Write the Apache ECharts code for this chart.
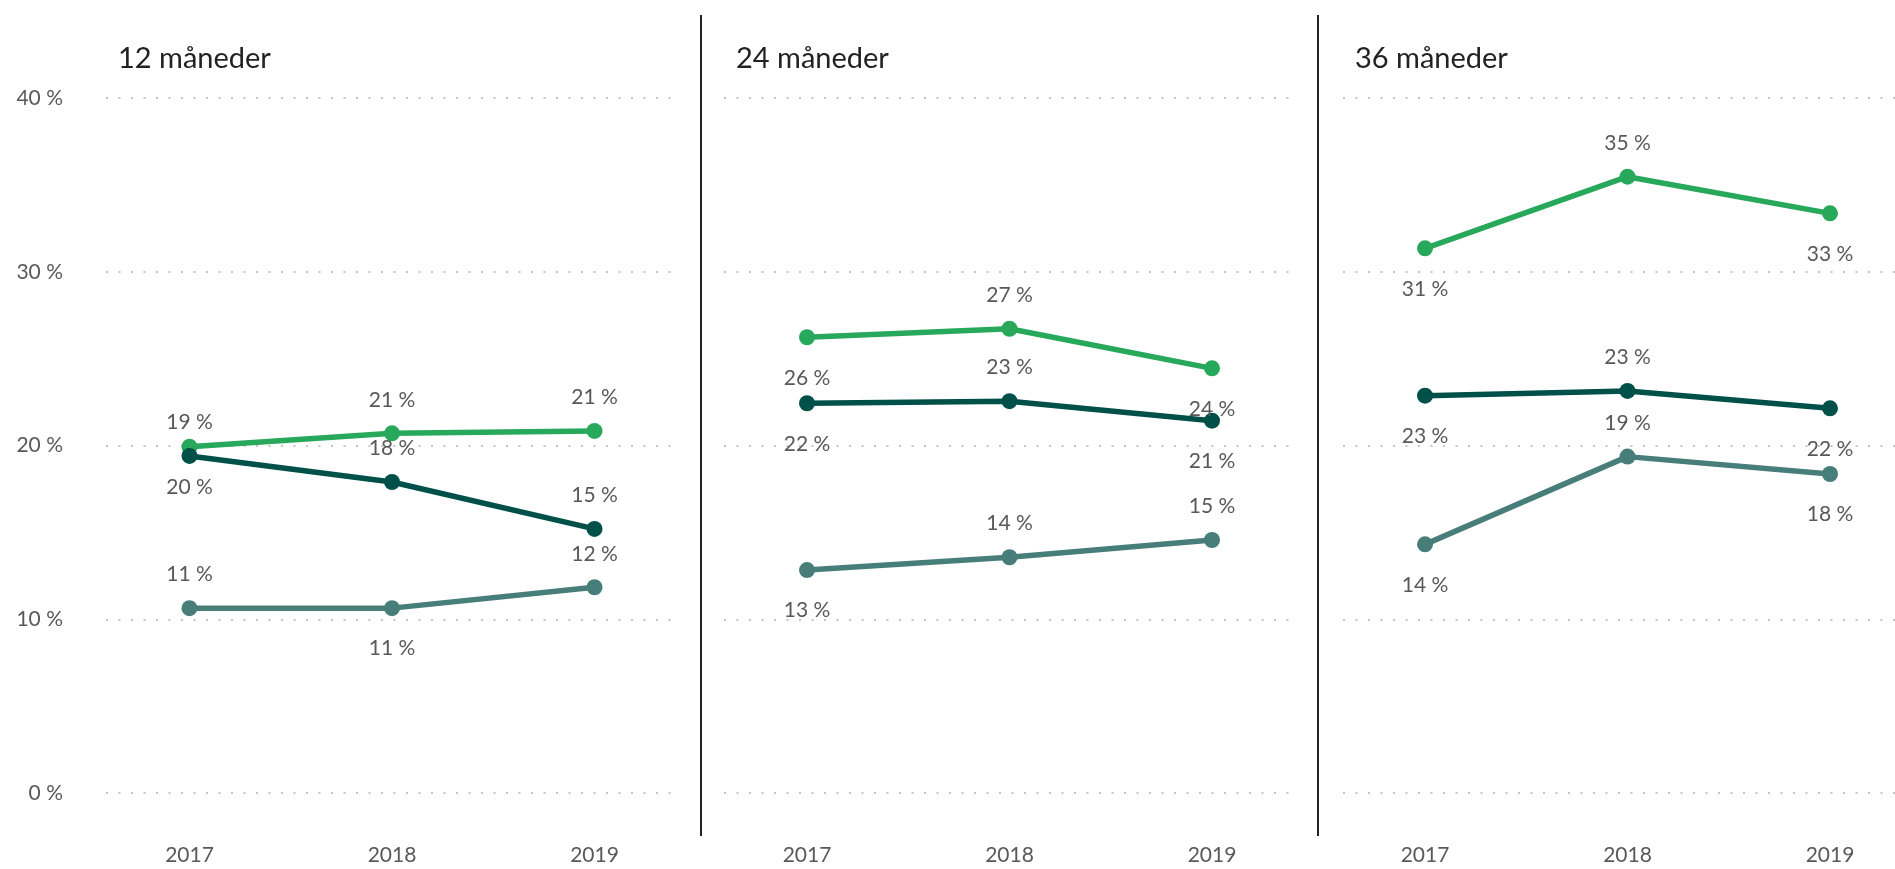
<!DOCTYPE html>
<html>
<head>
<meta charset="utf-8">
<script src="https://cdn.jsdelivr.net/npm/echarts@6/dist/echarts.min.js"></script>
<style>
html,body{margin:0;padding:0;background:#fff;}
#chart{width:1895px;height:869px;}
</style>
</head>
<body>
<div id="chart"></div>
<script>
const years = ['2017', '2018', '2019'];
const panelTitles = ['12 måneder', '24 måneder', '36 måneder'];
const yTicks = [0, 10, 20, 30, 40];

const lightValues = [[19.93, 20.70, 20.84], [26.23, 26.72, 24.44], [31.35, 35.47, 33.36]];
const darkValues  = [[19.40, 17.90, 15.20], [22.43, 22.55, 21.43], [22.87, 23.14, 22.14]];
const tealValues  = [[10.64, 10.64, 11.84], [12.83, 13.57, 14.56], [14.31, 19.36, 18.36]];

const lightPos = [['bottom','top','top'], ['bottom','top','bottom'], ['bottom','top','bottom']];
const darkPos  = [['top','top','top'], ['bottom','top','bottom'], ['bottom','top','bottom']];
const tealPos  = [['top','bottom','top'], ['bottom','top','top'], ['bottom','top','bottom']];

const colors = { light: '#28a85b', dark: '#00504a', teal: '#487e79' };
const FONT = 'Lato, "Open Sans", sans-serif';

const bgLefts = [106, 724, 1343];
const bgWidth = 567;
const dataLefts = [189.5, 807, 1425];
const dataWidth = 405;
const gridTop = 98, gridBottom = 76;

const grids = [], xAxes = [], yAxes = [], series = [], graphics = [];

for (let p = 0; p < 3; p++) {
  grids.push({ left: bgLefts[p], top: gridTop, width: bgWidth, bottom: gridBottom, containLabel: false });
  xAxes.push({ gridIndex: 2*p, type: 'value', show: false, min: 0, max: 1 });
  yAxes.push({
    gridIndex: 2*p, type: 'value', min: 0, max: 40, interval: 10,
    axisLine: { show: false }, axisTick: { show: false },
    axisLabel: { show: p === 0, formatter: v => v + ' %', color: '#595959', fontSize: 21, fontFamily: FONT, margin: 43 },
    splitLine: { show: true, lineStyle: { color: '#c4c4c4', width: 2, type: [2, 10.5] } }
  });
  grids.push({ left: dataLefts[p], top: gridTop, width: dataWidth, bottom: gridBottom, containLabel: false });
  xAxes.push({
    gridIndex: 2*p+1, type: 'category', data: years, boundaryGap: false,
    axisLine: { show: false }, axisTick: { show: false },
    axisLabel: { color: '#595959', fontSize: 21, fontFamily: FONT, margin: 52 },
    splitLine: { show: false }
  });
  yAxes.push({ gridIndex: 2*p+1, type: 'value', min: 0, max: 40, show: false, splitLine: { show: false } });

  const mk = (vals, pos, color) => ({
    type: 'line', xAxisIndex: 2*p+1, yAxisIndex: 2*p+1,
    symbol: 'circle', symbolSize: 16,
    lineStyle: { color: color, width: 5.5 },
    itemStyle: { color: color },
    data: vals.map((v, i) => ({
      value: v,
      label: { position: pos[i], distance: pos[i] === 'top' ? 15 : 22 }
    })),
    label: {
      show: true, formatter: d => Math.round(d.value) + ' %',
      color: '#595959', fontSize: 21, fontFamily: FONT
    },
    animation: false, emphasis: { disabled: true }
  });
  series.push(mk(lightValues[p], lightPos[p], colors.light));
  series.push(mk(tealValues[p], tealPos[p], colors.teal));
  series.push(mk(darkValues[p], darkPos[p], colors.dark));

  graphics.push({
    type: 'text', left: bgLefts[p] + 12, top: 44,
    style: { text: panelTitles[p], fill: '#222', fontSize: 29, fontFamily: FONT }
  });
}

[701, 1318].forEach(x => graphics.push({
  type: 'line', shape: { x1: x, y1: 15, x2: x, y2: 836 },
  style: { stroke: '#222', lineWidth: 2 }
}));

const chart = echarts.init(document.getElementById('chart'), null, { renderer: 'canvas' });
chart.setOption({
  animation: false,
  backgroundColor: '#fff',
  grid: grids, xAxis: xAxes, yAxis: yAxes, series: series, graphic: graphics
});
</script>
</body>
</html>
